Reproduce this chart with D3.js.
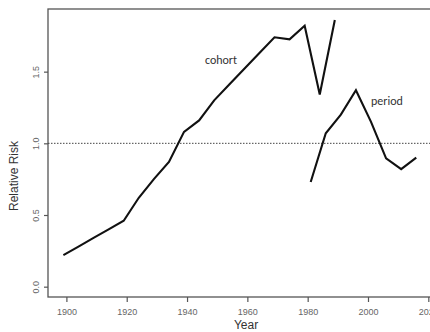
<!DOCTYPE html>
<html>
<head>
<meta charset="utf-8">
<script src="https://cdn.jsdelivr.net/npm/d3@7/dist/d3.min.js"></script>
<style>
  html, body { margin: 0; padding: 0; background: #fff; }
  svg { display: block; font-family: "Liberation Sans", Arial, sans-serif; }
</style>
</head>
<body>
<svg id="chart" width="430" height="332"></svg>
<script>
// Relative risk by birth cohort and by calendar period
const cohortYears = [1899, 1904, 1909, 1914, 1919, 1924, 1929, 1934, 1939, 1944,
                     1949, 1954, 1959, 1964, 1969, 1974, 1979, 1984, 1989];
const cohortRR    = [0.22, 0.28, 0.34, 0.40, 0.46, 0.62, 0.75, 0.87, 1.08, 1.16,
                     1.30, 1.41, 1.52, 1.63, 1.74, 1.725, 1.82, 1.34, 1.86];
const periodYears = [1981, 1986, 1991, 1996, 2001, 2006, 2011, 2016];
const periodRR    = [0.73, 1.07, 1.20, 1.37, 1.15, 0.895, 0.82, 0.90];
const xTicks = [1900, 1920, 1940, 1960, 1980, 2000, 2020];
const yTicks = [0.0, 0.5, 1.0, 1.5];
const refLevel = 1.0;

const svg = d3.select("#chart");
const box = { left: 48, top: 9, right: 444, bottom: 297 };

const x = d3.scaleLinear().domain([1893.9, 2025.2]).range([box.left, box.right]);
const y = d3.scaleLinear().domain([-0.072, 1.937]).range([box.bottom, box.top]);

const axisColor = "#555";
const labelColor = "#666";

// plot frame
svg.append("rect")
  .attr("x", box.left).attr("y", box.top)
  .attr("width", box.right - box.left).attr("height", box.bottom - box.top)
  .attr("fill", "none").attr("stroke", axisColor).attr("stroke-width", 1.3);

// x axis
const gx = svg.append("g").attr("transform", `translate(0,${box.bottom})`)
  .call(d3.axisBottom(x).tickValues(xTicks).tickFormat(d3.format("d"))
        .tickSize(5).tickPadding(7).tickSizeOuter(0));
gx.select(".domain").remove();
gx.selectAll("line").attr("stroke", axisColor).attr("stroke-width", 1.2);
gx.selectAll("text").attr("fill", labelColor).attr("font-size", 9);

// y axis with rotated labels
const gy = svg.append("g").attr("transform", `translate(${box.left},0)`)
  .call(d3.axisLeft(y).tickValues(yTicks).tickFormat(d3.format(".1f"))
        .tickSize(4).tickSizeOuter(0));
gy.select(".domain").remove();
gy.selectAll("line").attr("stroke", axisColor).attr("stroke-width", 1.2);
gy.selectAll("text")
  .attr("fill", labelColor).attr("font-size", 9)
  .attr("x", null).attr("dy", null)
  .attr("text-anchor", "middle")
  .attr("transform", "translate(-12,0) rotate(-90)")
  .attr("dy", "0.35em");

// reference line at RR = 1
svg.append("line")
  .attr("x1", box.left).attr("x2", box.right)
  .attr("y1", y(refLevel)).attr("y2", y(refLevel))
  .attr("stroke", "#444").attr("stroke-width", 1)
  .attr("stroke-dasharray", "1.5,1.5");

const line = d3.line().x(d => x(d[0])).y(d => y(d[1]));

svg.append("path")
  .datum(d3.zip(cohortYears, cohortRR))
  .attr("d", line).attr("fill", "none")
  .attr("stroke", "#111").attr("stroke-width", 2.1).attr("stroke-linejoin", "miter");

svg.append("path")
  .datum(d3.zip(periodYears, periodRR))
  .attr("d", line).attr("fill", "none")
  .attr("stroke", "#111").attr("stroke-width", 2.1).attr("stroke-linejoin", "miter");

// series labels
svg.append("text").attr("x", 221).attr("y", 64)
  .attr("text-anchor", "middle").attr("font-size", 12).attr("fill", "#333")
  .attr("font-family", "Carlito, Calibri, 'Open Sans', sans-serif")
  .text("cohort");
svg.append("text").attr("x", 387).attr("y", 105)
  .attr("text-anchor", "middle").attr("font-size", 12).attr("fill", "#333")
  .attr("font-family", "Carlito, Calibri, 'Open Sans', sans-serif")
  .text("period");

// axis titles
svg.append("text").attr("x", 246).attr("y", 329)
  .attr("text-anchor", "middle").attr("font-size", 12).attr("fill", "#333")
  .text("Year");
svg.append("text")
  .attr("transform", "translate(18,176) rotate(-90)")
  .attr("text-anchor", "middle").attr("font-size", 12).attr("fill", "#333")
  .text("Relative Risk");
</script>
</body>
</html>
